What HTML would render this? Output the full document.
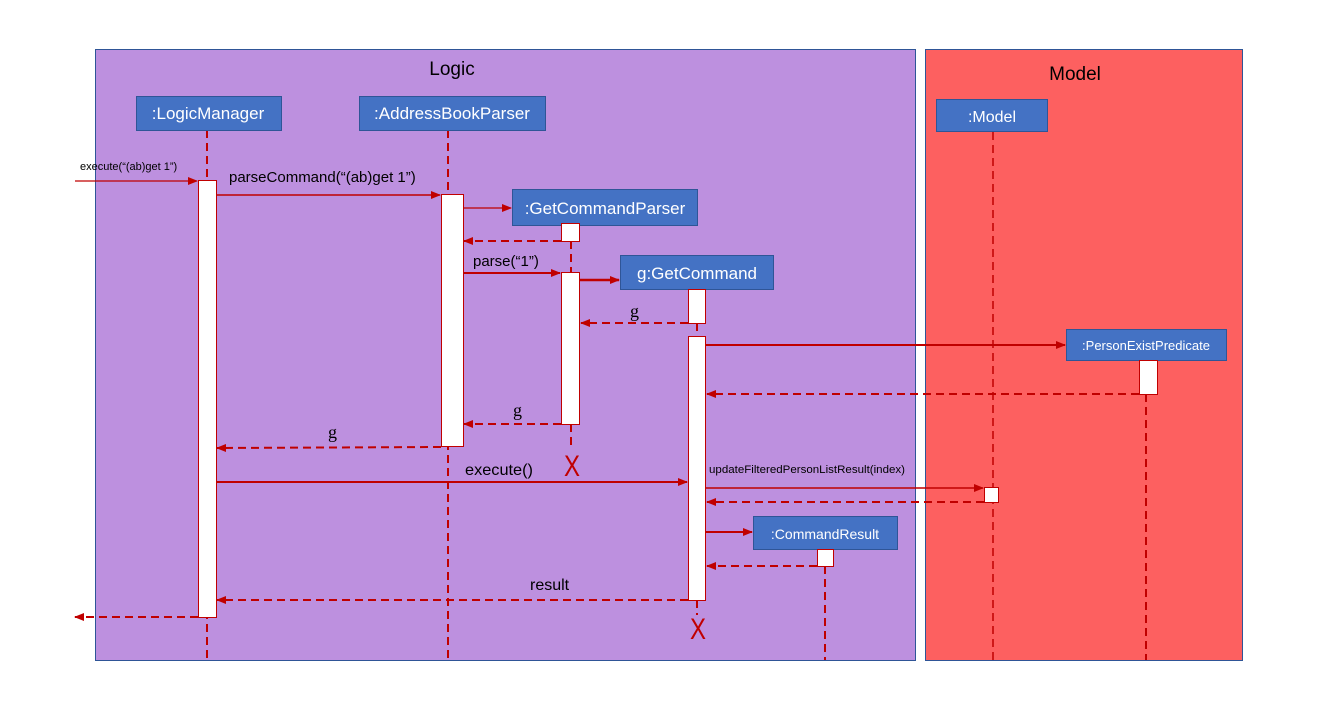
<!DOCTYPE html>
<html><head><meta charset="utf-8"><style>
html,body{margin:0;padding:0;background:#fff;}
svg{display:block;}
text{font-family:"Liberation Sans",sans-serif;}
text.s{font-family:"Liberation Serif",serif;}
</style></head><body>
<svg width="1325" height="709" viewBox="0 0 1325 709" xmlns="http://www.w3.org/2000/svg">
<defs>
<marker id="a" markerWidth="10" markerHeight="8" refX="9" refY="4" orient="auto" markerUnits="userSpaceOnUse"><path d="M0,0 L10,4 L0,8 Z" fill="#C00000"/></marker>
</defs>
<rect x="95.5" y="49.5" width="820" height="611" fill="#BD90DF" stroke="#2F5597" stroke-width="1"/>
<rect x="925.5" y="49.5" width="317" height="611" fill="#FD6060" stroke="#2F5597" stroke-width="1"/>
<text x="452" y="75" font-size="19" text-anchor="middle" fill="#000">Logic</text>
<text x="1075" y="80" font-size="19" text-anchor="middle" fill="#000">Model</text>

<g stroke="#C00000" stroke-width="2" stroke-dasharray="8,5" fill="none">
<line x1="207" y1="130" x2="207" y2="660"/>
<line x1="448" y1="130" x2="448" y2="660"/>
<line x1="571" y1="241" x2="571" y2="272"/>
<line x1="571" y1="424" x2="571" y2="450"/>
<line x1="697" y1="323" x2="697" y2="336"/>
<line x1="697" y1="600" x2="697" y2="615"/>
<line x1="825" y1="566" x2="825" y2="660"/>
<line x1="1146" y1="394" x2="1146" y2="660"/>
</g>
<line x1="993" y1="132" x2="993" y2="660" stroke="#C00000" stroke-width="1.5" stroke-dasharray="8,5"/>

<g fill="#4472C4" stroke="#2F5597" stroke-width="1">
<rect x="136.5" y="96.5" width="145" height="34"/>
<rect x="359.5" y="96.5" width="186" height="34"/>
<rect x="512.5" y="189.5" width="185" height="36"/>
<rect x="620.5" y="255.5" width="153" height="34"/>
<rect x="936.5" y="99.5" width="111" height="32"/>
<rect x="1066.5" y="329.5" width="160" height="31"/>
<rect x="753.5" y="516.5" width="144" height="33"/>
</g>
<g fill="#fff" text-anchor="middle">
<text x="208" y="119" font-size="17">:LogicManager</text>
<text x="452" y="119" font-size="17">:AddressBookParser</text>
<text x="605" y="214" font-size="17">:GetCommandParser</text>
<text x="697" y="279" font-size="17">g:GetCommand</text>
<text x="992" y="122" font-size="16">:Model</text>
<text x="1146" y="350" font-size="13">:PersonExistPredicate</text>
<text x="825" y="539" font-size="14">:CommandResult</text>
</g>

<g fill="#fff" stroke="#C00000" stroke-width="1">
<rect x="198.5" y="180.5" width="18" height="437"/>
<rect x="441.5" y="194.5" width="22" height="252"/>
<rect x="561.5" y="223.5" width="18" height="18"/>
<rect x="561.5" y="272.5" width="18" height="152"/>
<rect x="688.5" y="289.5" width="17" height="34"/>
<rect x="688.5" y="336.5" width="17" height="264"/>
<rect x="1139.5" y="360.5" width="18" height="34"/>
<rect x="984.5" y="487.5" width="14" height="15"/>
<rect x="817.5" y="549.5" width="16" height="17"/>
</g>

<g stroke="#C00000" fill="none" marker-end="url(#a)">
<line x1="75" y1="181" x2="197" y2="181" stroke-width="1.2"/>
<line x1="217" y1="195" x2="440" y2="195" stroke-width="1.5"/>
<line x1="464" y1="208" x2="511" y2="208" stroke-width="1.2"/>
<line x1="464" y1="273" x2="560" y2="273" stroke-width="2"/>
<line x1="580" y1="280" x2="619" y2="280" stroke-width="2.5"/>
<line x1="706" y1="345" x2="1065" y2="345" stroke-width="2"/>
<line x1="217" y1="482" x2="687" y2="482" stroke-width="2"/>
<line x1="706" y1="488" x2="983" y2="488" stroke-width="1.5"/>
<line x1="706" y1="532" x2="752" y2="532" stroke-width="2"/>
</g>
<g stroke="#C00000" fill="none" stroke-width="2" stroke-dasharray="8,5" marker-end="url(#a)">
<line x1="561" y1="241" x2="464" y2="241"/>
<line x1="688" y1="323" x2="581" y2="323"/>
<line x1="1139" y1="394" x2="707" y2="394"/>
<line x1="561" y1="424" x2="464" y2="424"/>
<line x1="441" y1="447" x2="217" y2="448"/>
<line x1="984" y1="502" x2="707" y2="502"/>
<line x1="817" y1="566" x2="707" y2="566"/>
<line x1="688" y1="600" x2="217" y2="600"/>
<line x1="198" y1="617" x2="75" y2="617"/>
</g>

<g fill="#000">
<text x="80" y="170" font-size="11">execute(“(ab)get 1”)</text>
<text x="229" y="182" font-size="15">parseCommand(“(ab)get 1”)</text>
<text x="473" y="266" font-size="15">parse(“1”)</text>
<text class="s" x="630" y="317" font-size="18">g</text>
<text class="s" x="513" y="416" font-size="18">g</text>
<text class="s" x="328" y="438" font-size="18">g</text>
<text x="465" y="475" font-size="16" textLength="68" lengthAdjust="spacingAndGlyphs">execute()</text>
<text x="709" y="473" font-size="11" textLength="196" lengthAdjust="spacingAndGlyphs">updateFilteredPersonListResult(index)</text>
<text x="530" y="590" font-size="16">result</text>
</g>
<g fill="#C00000" text-anchor="middle" font-size="30">
<text x="572" y="476" transform="translate(572,476) scale(0.8,1) translate(-572,-476)">X</text>
<text x="698" y="639" transform="translate(698,639) scale(0.8,1) translate(-698,-639)">X</text>
</g>
</svg>
</body></html>
